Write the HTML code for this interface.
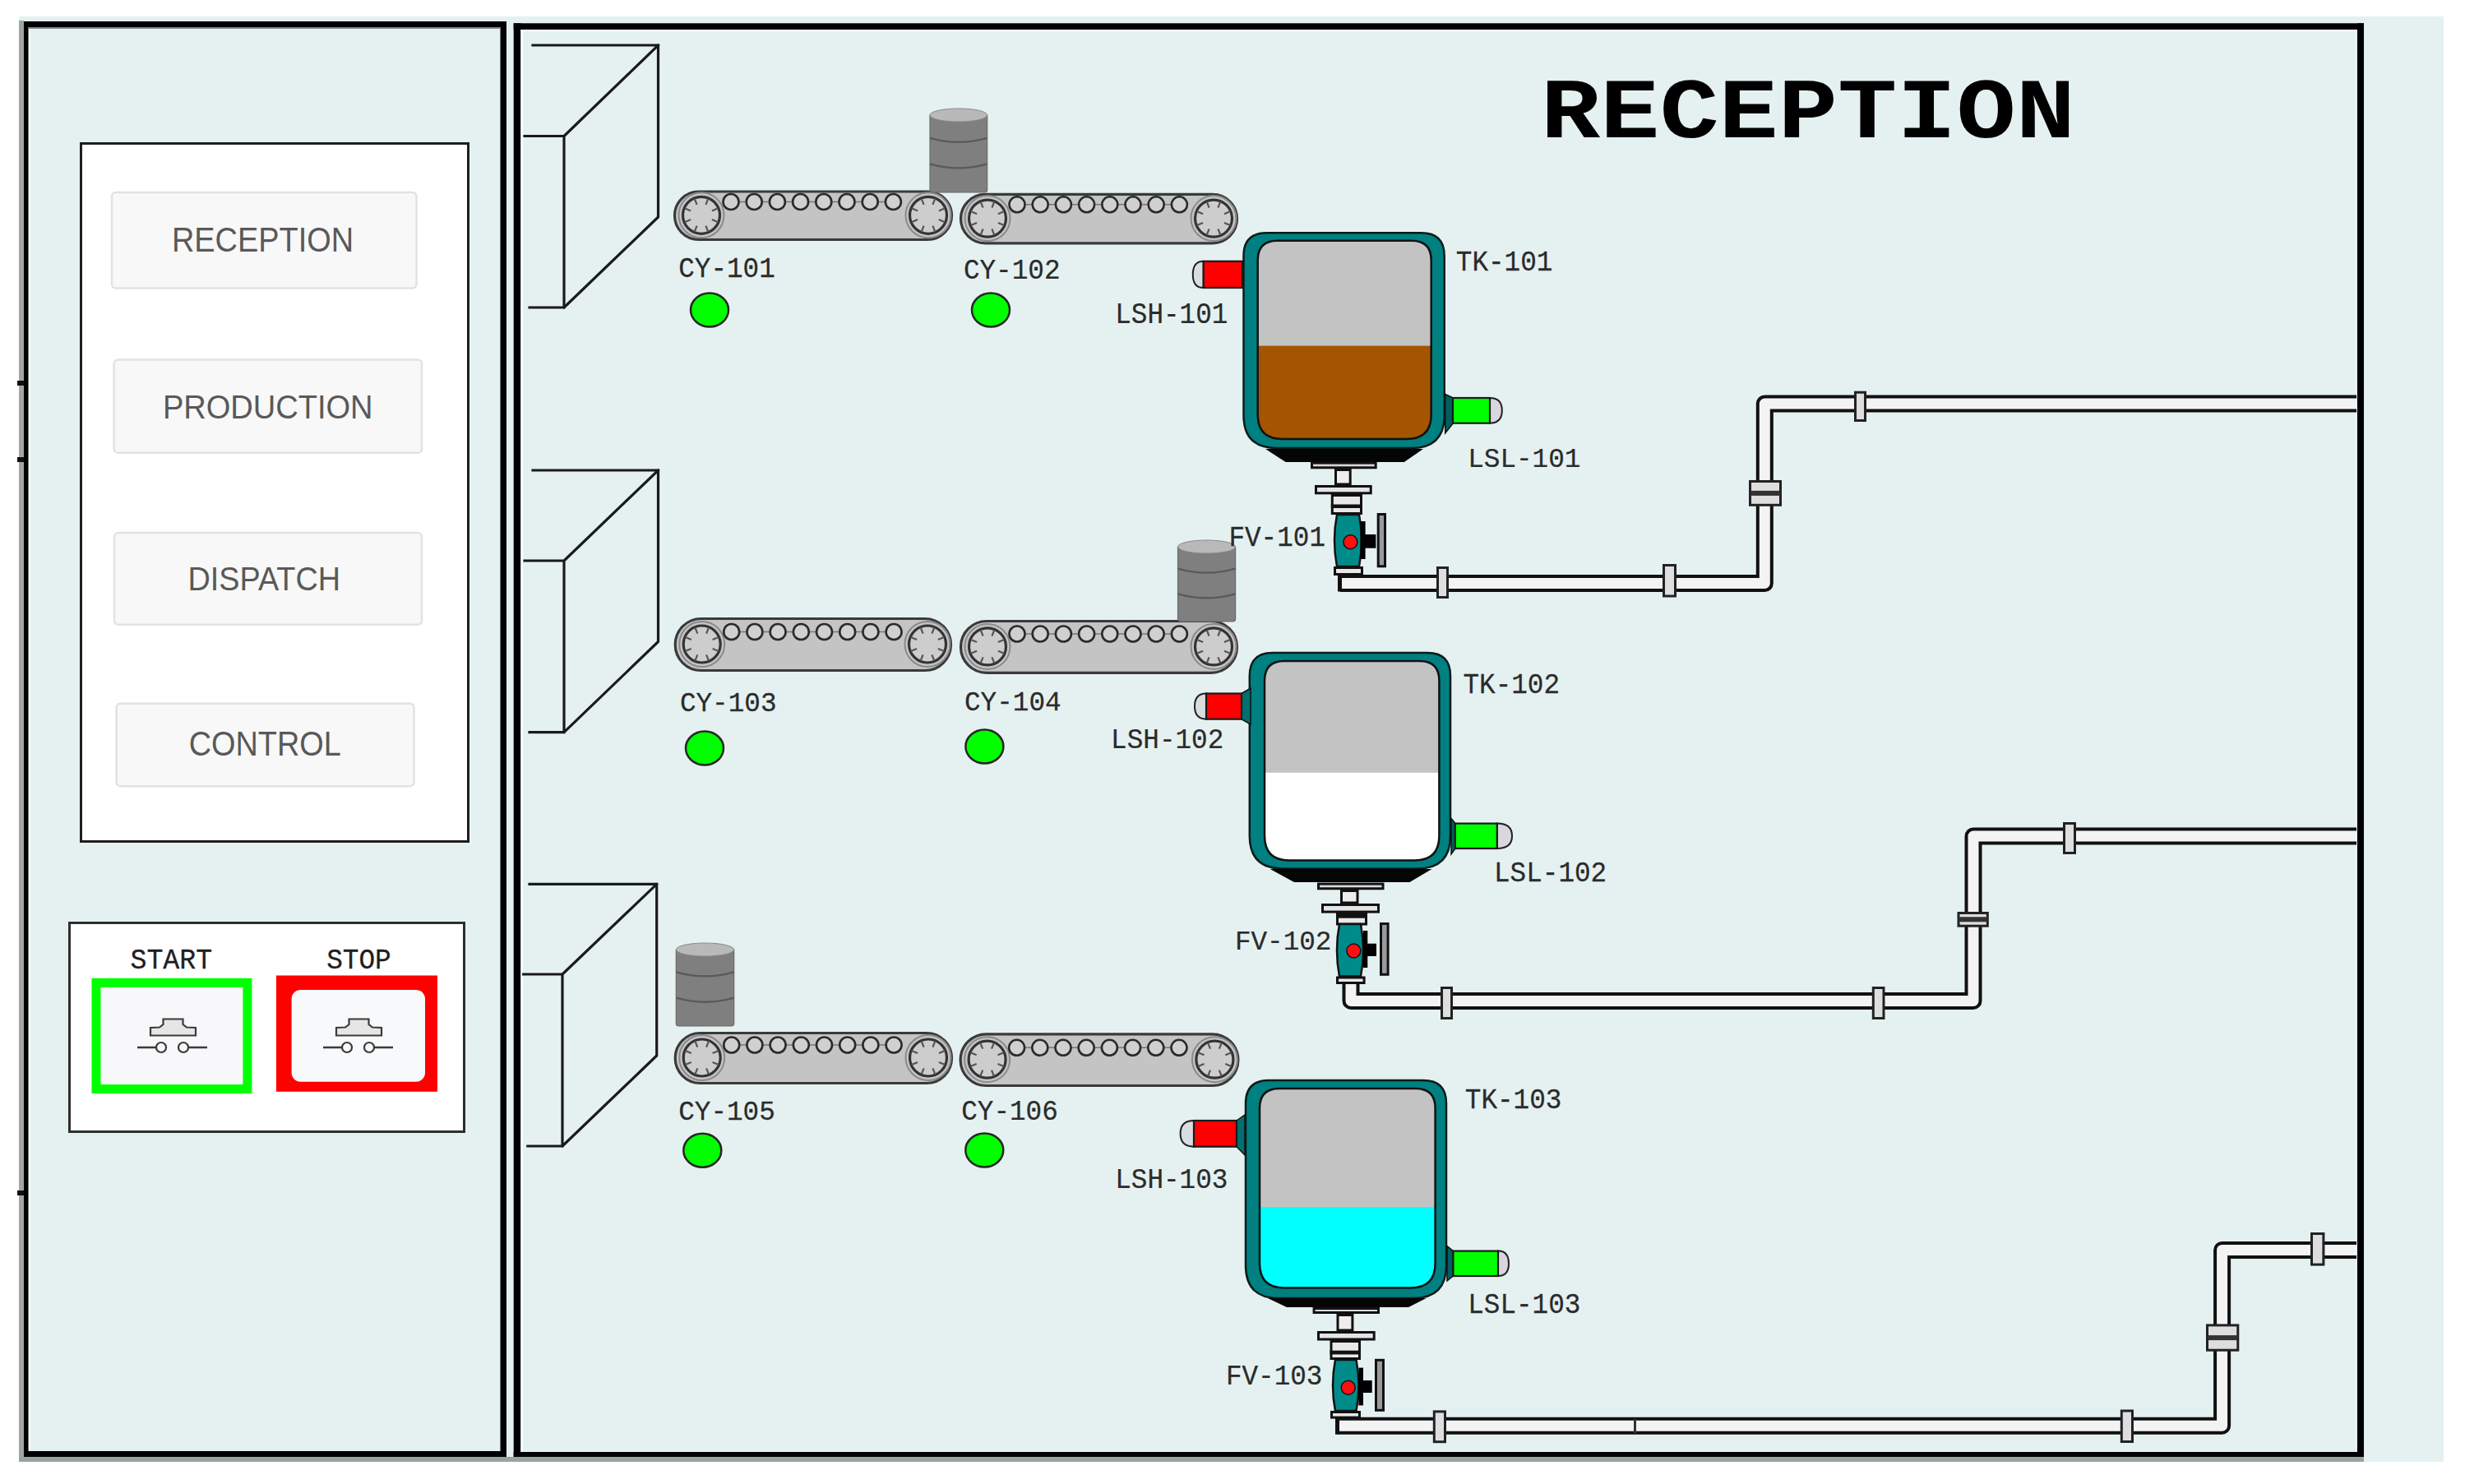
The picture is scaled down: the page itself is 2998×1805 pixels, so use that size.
<!DOCTYPE html>
<html><head><meta charset="utf-8"><title>Reception</title>
<style>html,body{margin:0;padding:0;background:#fff;}body{width:2998px;height:1805px;position:relative;overflow:hidden;}</style>
</head><body>
<svg width="2998" height="1805" viewBox="0 0 2998 1805" style="position:absolute;left:0;top:0">
<rect x="0" y="0" width="2998" height="1805" fill="#ffffff"/>
<rect x="23.0" y="20.0" width="2949.0" height="1758.0" fill="#e5f1f1" />
<rect x="23.0" y="25.0" width="6.0" height="1753.0" fill="#9ea6a6" />
<rect x="23.0" y="1772.0" width="593.0" height="6.0" fill="#9aa2a2" />
<rect x="29.0" y="26.0" width="587.0" height="7.0" fill="#000" />
<rect x="29.0" y="26.0" width="5.5" height="1746.0" fill="#000" />
<rect x="608.5" y="26.0" width="7.5" height="1746.0" fill="#000" />
<rect x="29.0" y="1765.0" width="587.0" height="7.0" fill="#000" />
<rect x="34.5" y="33.0" width="574.0" height="2.0" fill="#7d8585" />
<rect x="35.0" y="35.0" width="2.0" height="1730.0" fill="#f4ffff" />
<rect x="616.0" y="1772.0" width="2259.0" height="6.0" fill="#9aa2a2" />
<rect x="624.7" y="28.3" width="2250.3" height="7.7" fill="#000" />
<rect x="624.7" y="28.3" width="8.7" height="1743.7" fill="#000" />
<rect x="2867.0" y="28.3" width="8.0" height="1743.7" fill="#000" />
<rect x="624.7" y="1766.0" width="2250.3" height="6.0" fill="#000" />
<rect x="633.4" y="36.0" width="2233.6" height="2.0" fill="#f4ffff" />
<rect x="633.4" y="36.0" width="2.6" height="1730.0" fill="#f4ffff" />
<rect x="21.0" y="463.0" width="8.0" height="6.0" fill="#111" />
<rect x="21.0" y="556.0" width="8.0" height="6.0" fill="#111" />
<rect x="21.0" y="1448.0" width="8.0" height="6.0" fill="#111" />
<rect x="98.5" y="174.5" width="471" height="849" fill="#fff" stroke="#1e1e1e" stroke-width="3"/>
<rect x="136.0" y="234.0" width="370.5" height="116.6" rx="5" fill="#f8f8f8" stroke="#e2e2e2" stroke-width="2.5"/>
<rect x="138.6" y="437.5" width="374.4" height="113.2" rx="5" fill="#f8f8f8" stroke="#e2e2e2" stroke-width="2.5"/>
<rect x="139.0" y="648.0" width="374.0" height="111.7" rx="5" fill="#f8f8f8" stroke="#e2e2e2" stroke-width="2.5"/>
<rect x="141.6" y="855.7" width="361.9" height="100.5" rx="5" fill="#f8f8f8" stroke="#e2e2e2" stroke-width="2.5"/>
<text transform="translate(208.89,306.00) scale(0.8995,1)" font-family="Liberation Sans" font-weight="normal" font-size="42.15" fill="#595959" >RECEPTION</text>
<text transform="translate(197.88,509.00) scale(0.9183,1)" font-family="Liberation Sans" font-weight="normal" font-size="41.43" fill="#595959" >PRODUCTION</text>
<text transform="translate(228.50,718.00) scale(0.9096,1)" font-family="Liberation Sans" font-weight="normal" font-size="41.57" fill="#595959" >DISPATCH</text>
<text transform="translate(229.68,919.00) scale(0.8858,1)" font-family="Liberation Sans" font-weight="normal" font-size="42.73" fill="#595959" >CONTROL</text>
<rect x="84.5" y="1122.5" width="480" height="254" fill="#fff" stroke="#2e2e2e" stroke-width="3"/>
<text transform="translate(158.42,1177.80) scale(0.9529,1)" font-family="Liberation Mono" font-weight="normal" font-size="34.92" fill="#1f1f1f" stroke="#1f1f1f" stroke-width="0.3">START</text>
<text transform="translate(397.14,1177.80) scale(0.9380,1)" font-family="Liberation Mono" font-weight="normal" font-size="34.92" fill="#1f1f1f" stroke="#1f1f1f" stroke-width="0.3">STOP</text>
<rect x="117" y="1195.3" width="183.9" height="129.2" fill="#f8f8fa" stroke="#00ff00" stroke-width="11"/>
<rect x="336.0" y="1186.5" width="196.0" height="141.3" fill="#ff0000" />
<rect x="354.6" y="1204" width="162.4" height="111.8" rx="11" fill="#f8f9fb"/>
<g transform="translate(0,0)" fill="#e6e6e6" stroke="#3a3a3a" stroke-width="2.2"><path d="M183 1259.5 V1250 L194 1249.5 L198.5 1246 V1239.5 H222.5 V1246 L227 1249.5 L238 1250 V1259.5 Z"/><path d="M167 1274 H190 M229 1274 H252" fill="none" stroke-width="2.6"/><circle cx="196" cy="1274" r="6" fill="none"/><circle cx="223" cy="1274" r="6" fill="none"/></g>
<g transform="translate(226,0)" fill="#e6e6e6" stroke="#3a3a3a" stroke-width="2.2"><path d="M183 1259.5 V1250 L194 1249.5 L198.5 1246 V1239.5 H222.5 V1246 L227 1249.5 L238 1250 V1259.5 Z"/><path d="M167 1274 H190 M229 1274 H252" fill="none" stroke-width="2.6"/><circle cx="196" cy="1274" r="6" fill="none"/><circle cx="223" cy="1274" r="6" fill="none"/></g>
<text transform="translate(1873.95,166.60) scale(1.1623,1)" font-family="Liberation Mono" font-weight="bold" font-size="103.54" fill="#000" >RECEPTION</text>
<g stroke="#1a1a1a" stroke-width="3.2" fill="none" stroke-linecap="square"><path d="M648 55 H800.5 V264 L686 374 M800.5 55 L686 165.5 V374 M638 165.5 H686 M644 374 H686"/></g>
<g stroke="#1a1a1a" stroke-width="3.2" fill="none" stroke-linecap="square"><path d="M648 572 H800.5 V780.5 L686 890.6 M800.5 572 L686 682 V890.6 M638 682 H686 M644 890.6 H686"/></g>
<g stroke="#1a1a1a" stroke-width="3.2" fill="none" stroke-linecap="square"><path d="M644 1075.4 H798.7 V1284 L684 1394 M798.7 1075.4 L684 1185 V1394 M636.6 1185 H684 M641.8 1394 H684"/></g>
<rect x="820.5" y="233.0" width="337.0" height="58.5" rx="29.2" fill="#c4c4c4" stroke="#3a3a3a" stroke-width="3.2"/>
<circle cx="853.0" cy="261.8" r="27.5" fill="none" stroke="#8a8a8a" stroke-width="2"/>
<circle cx="853.0" cy="261.8" r="22.5" fill="#cdcdcd" stroke="#333" stroke-width="3.2"/>
<path d="M873.3 270.2 L865.9 267.1 M861.4 282.1 L858.4 274.7 M844.6 282.1 L847.6 274.7 M832.7 270.2 L840.1 267.1 M832.7 253.3 L840.1 256.4 M844.6 241.4 L847.6 248.8 M861.4 241.4 L858.4 248.8 M873.3 253.3 L865.9 256.4" stroke="#555" stroke-width="2.2"/>
<circle cx="1129.0" cy="261.8" r="27.5" fill="none" stroke="#8a8a8a" stroke-width="2"/>
<circle cx="1129.0" cy="261.8" r="22.5" fill="#cdcdcd" stroke="#333" stroke-width="3.2"/>
<path d="M1149.3 270.2 L1141.9 267.1 M1137.4 282.1 L1134.4 274.7 M1120.6 282.1 L1123.6 274.7 M1108.7 270.2 L1116.1 267.1 M1108.7 253.3 L1116.1 256.4 M1120.6 241.4 L1123.6 248.8 M1137.4 241.4 L1134.4 248.8 M1149.3 253.3 L1141.9 256.4" stroke="#555" stroke-width="2.2"/>
<line x1="889.0" y1="245.5" x2="1086.4" y2="245.5" stroke="#777" stroke-width="1.5"/>
<circle cx="889.0" cy="245.5" r="9.5" fill="#d0d0d0" stroke="#2a2a2a" stroke-width="2.6"/>
<circle cx="917.2" cy="245.5" r="9.5" fill="#d0d0d0" stroke="#2a2a2a" stroke-width="2.6"/>
<circle cx="945.4" cy="245.5" r="9.5" fill="#d0d0d0" stroke="#2a2a2a" stroke-width="2.6"/>
<circle cx="973.6" cy="245.5" r="9.5" fill="#d0d0d0" stroke="#2a2a2a" stroke-width="2.6"/>
<circle cx="1001.8" cy="245.5" r="9.5" fill="#d0d0d0" stroke="#2a2a2a" stroke-width="2.6"/>
<circle cx="1030.0" cy="245.5" r="9.5" fill="#d0d0d0" stroke="#2a2a2a" stroke-width="2.6"/>
<circle cx="1058.2" cy="245.5" r="9.5" fill="#d0d0d0" stroke="#2a2a2a" stroke-width="2.6"/>
<circle cx="1086.4" cy="245.5" r="9.5" fill="#d0d0d0" stroke="#2a2a2a" stroke-width="2.6"/>
<rect x="1168.5" y="236.3" width="336.0" height="59.5" rx="29.8" fill="#c4c4c4" stroke="#3a3a3a" stroke-width="3.2"/>
<circle cx="1201.0" cy="265.6" r="27.5" fill="none" stroke="#8a8a8a" stroke-width="2"/>
<circle cx="1201.0" cy="265.6" r="22.5" fill="#cdcdcd" stroke="#333" stroke-width="3.2"/>
<path d="M1221.3 274.0 L1213.9 270.9 M1209.4 285.9 L1206.4 278.5 M1192.6 285.9 L1195.6 278.5 M1180.7 274.0 L1188.1 270.9 M1180.7 257.1 L1188.1 260.2 M1192.6 245.2 L1195.6 252.6 M1209.4 245.2 L1206.4 252.6 M1221.3 257.1 L1213.9 260.2" stroke="#555" stroke-width="2.2"/>
<circle cx="1476.0" cy="265.6" r="27.5" fill="none" stroke="#8a8a8a" stroke-width="2"/>
<circle cx="1476.0" cy="265.6" r="22.5" fill="#cdcdcd" stroke="#333" stroke-width="3.2"/>
<path d="M1496.3 274.0 L1488.9 270.9 M1484.4 285.9 L1481.4 278.5 M1467.6 285.9 L1470.6 278.5 M1455.7 274.0 L1463.1 270.9 M1455.7 257.1 L1463.1 260.2 M1467.6 245.2 L1470.6 252.6 M1484.4 245.2 L1481.4 252.6 M1496.3 257.1 L1488.9 260.2" stroke="#555" stroke-width="2.2"/>
<line x1="1237.0" y1="248.8" x2="1434.4" y2="248.8" stroke="#777" stroke-width="1.5"/>
<circle cx="1237.0" cy="248.8" r="9.5" fill="#d0d0d0" stroke="#2a2a2a" stroke-width="2.6"/>
<circle cx="1265.2" cy="248.8" r="9.5" fill="#d0d0d0" stroke="#2a2a2a" stroke-width="2.6"/>
<circle cx="1293.4" cy="248.8" r="9.5" fill="#d0d0d0" stroke="#2a2a2a" stroke-width="2.6"/>
<circle cx="1321.6" cy="248.8" r="9.5" fill="#d0d0d0" stroke="#2a2a2a" stroke-width="2.6"/>
<circle cx="1349.8" cy="248.8" r="9.5" fill="#d0d0d0" stroke="#2a2a2a" stroke-width="2.6"/>
<circle cx="1378.0" cy="248.8" r="9.5" fill="#d0d0d0" stroke="#2a2a2a" stroke-width="2.6"/>
<circle cx="1406.2" cy="248.8" r="9.5" fill="#d0d0d0" stroke="#2a2a2a" stroke-width="2.6"/>
<circle cx="1434.4" cy="248.8" r="9.5" fill="#d0d0d0" stroke="#2a2a2a" stroke-width="2.6"/>
<rect x="821.2" y="752.5" width="335.3" height="63.0" rx="31.5" fill="#c4c4c4" stroke="#3a3a3a" stroke-width="3.2"/>
<circle cx="853.7" cy="783.5" r="27.5" fill="none" stroke="#8a8a8a" stroke-width="2"/>
<circle cx="853.7" cy="783.5" r="22.5" fill="#cdcdcd" stroke="#333" stroke-width="3.2"/>
<path d="M874.0 791.9 L866.6 788.9 M862.1 803.8 L859.1 796.4 M845.3 803.8 L848.3 796.4 M833.4 791.9 L840.8 788.9 M833.4 775.1 L840.8 778.1 M845.3 763.2 L848.3 770.6 M862.1 763.2 L859.1 770.6 M874.0 775.1 L866.6 778.1" stroke="#555" stroke-width="2.2"/>
<circle cx="1128.0" cy="783.5" r="27.5" fill="none" stroke="#8a8a8a" stroke-width="2"/>
<circle cx="1128.0" cy="783.5" r="22.5" fill="#cdcdcd" stroke="#333" stroke-width="3.2"/>
<path d="M1148.3 791.9 L1140.9 788.9 M1136.4 803.8 L1133.4 796.4 M1119.6 803.8 L1122.6 796.4 M1107.7 791.9 L1115.1 788.9 M1107.7 775.1 L1115.1 778.1 M1119.6 763.2 L1122.6 770.6 M1136.4 763.2 L1133.4 770.6 M1148.3 775.1 L1140.9 778.1" stroke="#555" stroke-width="2.2"/>
<line x1="889.7" y1="768.5" x2="1087.1" y2="768.5" stroke="#777" stroke-width="1.5"/>
<circle cx="889.7" cy="768.5" r="9.5" fill="#d0d0d0" stroke="#2a2a2a" stroke-width="2.6"/>
<circle cx="917.9" cy="768.5" r="9.5" fill="#d0d0d0" stroke="#2a2a2a" stroke-width="2.6"/>
<circle cx="946.1" cy="768.5" r="9.5" fill="#d0d0d0" stroke="#2a2a2a" stroke-width="2.6"/>
<circle cx="974.3" cy="768.5" r="9.5" fill="#d0d0d0" stroke="#2a2a2a" stroke-width="2.6"/>
<circle cx="1002.5" cy="768.5" r="9.5" fill="#d0d0d0" stroke="#2a2a2a" stroke-width="2.6"/>
<circle cx="1030.7" cy="768.5" r="9.5" fill="#d0d0d0" stroke="#2a2a2a" stroke-width="2.6"/>
<circle cx="1058.9" cy="768.5" r="9.5" fill="#d0d0d0" stroke="#2a2a2a" stroke-width="2.6"/>
<circle cx="1087.1" cy="768.5" r="9.5" fill="#d0d0d0" stroke="#2a2a2a" stroke-width="2.6"/>
<rect x="1168.5" y="755.5" width="336.0" height="62.8" rx="31.4" fill="#c4c4c4" stroke="#3a3a3a" stroke-width="3.2"/>
<circle cx="1201.0" cy="786.4" r="27.5" fill="none" stroke="#8a8a8a" stroke-width="2"/>
<circle cx="1201.0" cy="786.4" r="22.5" fill="#cdcdcd" stroke="#333" stroke-width="3.2"/>
<path d="M1221.3 794.8 L1213.9 791.8 M1209.4 806.7 L1206.4 799.3 M1192.6 806.7 L1195.6 799.3 M1180.7 794.8 L1188.1 791.8 M1180.7 778.0 L1188.1 781.0 M1192.6 766.1 L1195.6 773.5 M1209.4 766.1 L1206.4 773.5 M1221.3 778.0 L1213.9 781.0" stroke="#555" stroke-width="2.2"/>
<circle cx="1476.0" cy="786.4" r="27.5" fill="none" stroke="#8a8a8a" stroke-width="2"/>
<circle cx="1476.0" cy="786.4" r="22.5" fill="#cdcdcd" stroke="#333" stroke-width="3.2"/>
<path d="M1496.3 794.8 L1488.9 791.8 M1484.4 806.7 L1481.4 799.3 M1467.6 806.7 L1470.6 799.3 M1455.7 794.8 L1463.1 791.8 M1455.7 778.0 L1463.1 781.0 M1467.6 766.1 L1470.6 773.5 M1484.4 766.1 L1481.4 773.5 M1496.3 778.0 L1488.9 781.0" stroke="#555" stroke-width="2.2"/>
<line x1="1237.0" y1="771.0" x2="1434.4" y2="771.0" stroke="#777" stroke-width="1.5"/>
<circle cx="1237.0" cy="771.0" r="9.5" fill="#d0d0d0" stroke="#2a2a2a" stroke-width="2.6"/>
<circle cx="1265.2" cy="771.0" r="9.5" fill="#d0d0d0" stroke="#2a2a2a" stroke-width="2.6"/>
<circle cx="1293.4" cy="771.0" r="9.5" fill="#d0d0d0" stroke="#2a2a2a" stroke-width="2.6"/>
<circle cx="1321.6" cy="771.0" r="9.5" fill="#d0d0d0" stroke="#2a2a2a" stroke-width="2.6"/>
<circle cx="1349.8" cy="771.0" r="9.5" fill="#d0d0d0" stroke="#2a2a2a" stroke-width="2.6"/>
<circle cx="1378.0" cy="771.0" r="9.5" fill="#d0d0d0" stroke="#2a2a2a" stroke-width="2.6"/>
<circle cx="1406.2" cy="771.0" r="9.5" fill="#d0d0d0" stroke="#2a2a2a" stroke-width="2.6"/>
<circle cx="1434.4" cy="771.0" r="9.5" fill="#d0d0d0" stroke="#2a2a2a" stroke-width="2.6"/>
<rect x="821.2" y="1256.5" width="336.3" height="61.0" rx="30.5" fill="#c4c4c4" stroke="#3a3a3a" stroke-width="3.2"/>
<circle cx="853.7" cy="1286.5" r="27.5" fill="none" stroke="#8a8a8a" stroke-width="2"/>
<circle cx="853.7" cy="1286.5" r="22.5" fill="#cdcdcd" stroke="#333" stroke-width="3.2"/>
<path d="M874.0 1294.9 L866.6 1291.9 M862.1 1306.8 L859.1 1299.4 M845.3 1306.8 L848.3 1299.4 M833.4 1294.9 L840.8 1291.9 M833.4 1278.1 L840.8 1281.1 M845.3 1266.2 L848.3 1273.6 M862.1 1266.2 L859.1 1273.6 M874.0 1278.1 L866.6 1281.1" stroke="#555" stroke-width="2.2"/>
<circle cx="1129.0" cy="1286.5" r="27.5" fill="none" stroke="#8a8a8a" stroke-width="2"/>
<circle cx="1129.0" cy="1286.5" r="22.5" fill="#cdcdcd" stroke="#333" stroke-width="3.2"/>
<path d="M1149.3 1294.9 L1141.9 1291.9 M1137.4 1306.8 L1134.4 1299.4 M1120.6 1306.8 L1123.6 1299.4 M1108.7 1294.9 L1116.1 1291.9 M1108.7 1278.1 L1116.1 1281.1 M1120.6 1266.2 L1123.6 1273.6 M1137.4 1266.2 L1134.4 1273.6 M1149.3 1278.1 L1141.9 1281.1" stroke="#555" stroke-width="2.2"/>
<line x1="889.7" y1="1271.0" x2="1087.1" y2="1271.0" stroke="#777" stroke-width="1.5"/>
<circle cx="889.7" cy="1271.0" r="9.5" fill="#d0d0d0" stroke="#2a2a2a" stroke-width="2.6"/>
<circle cx="917.9" cy="1271.0" r="9.5" fill="#d0d0d0" stroke="#2a2a2a" stroke-width="2.6"/>
<circle cx="946.1" cy="1271.0" r="9.5" fill="#d0d0d0" stroke="#2a2a2a" stroke-width="2.6"/>
<circle cx="974.3" cy="1271.0" r="9.5" fill="#d0d0d0" stroke="#2a2a2a" stroke-width="2.6"/>
<circle cx="1002.5" cy="1271.0" r="9.5" fill="#d0d0d0" stroke="#2a2a2a" stroke-width="2.6"/>
<circle cx="1030.7" cy="1271.0" r="9.5" fill="#d0d0d0" stroke="#2a2a2a" stroke-width="2.6"/>
<circle cx="1058.9" cy="1271.0" r="9.5" fill="#d0d0d0" stroke="#2a2a2a" stroke-width="2.6"/>
<circle cx="1087.1" cy="1271.0" r="9.5" fill="#d0d0d0" stroke="#2a2a2a" stroke-width="2.6"/>
<rect x="1168.1" y="1257.8" width="337.8" height="62.7" rx="31.4" fill="#c4c4c4" stroke="#3a3a3a" stroke-width="3.2"/>
<circle cx="1200.6" cy="1288.7" r="27.5" fill="none" stroke="#8a8a8a" stroke-width="2"/>
<circle cx="1200.6" cy="1288.7" r="22.5" fill="#cdcdcd" stroke="#333" stroke-width="3.2"/>
<path d="M1220.9 1297.1 L1213.5 1294.0 M1209.0 1309.0 L1206.0 1301.6 M1192.2 1309.0 L1195.2 1301.6 M1180.3 1297.1 L1187.7 1294.0 M1180.3 1280.2 L1187.7 1283.3 M1192.2 1268.3 L1195.2 1275.7 M1209.0 1268.3 L1206.0 1275.7 M1220.9 1280.2 L1213.5 1283.3" stroke="#555" stroke-width="2.2"/>
<circle cx="1477.4" cy="1288.7" r="27.5" fill="none" stroke="#8a8a8a" stroke-width="2"/>
<circle cx="1477.4" cy="1288.7" r="22.5" fill="#cdcdcd" stroke="#333" stroke-width="3.2"/>
<path d="M1497.7 1297.1 L1490.3 1294.0 M1485.8 1309.0 L1482.8 1301.6 M1469.0 1309.0 L1472.0 1301.6 M1457.1 1297.1 L1464.5 1294.0 M1457.1 1280.2 L1464.5 1283.3 M1469.0 1268.3 L1472.0 1275.7 M1485.8 1268.3 L1482.8 1275.7 M1497.7 1280.2 L1490.3 1283.3" stroke="#555" stroke-width="2.2"/>
<line x1="1236.6" y1="1274.3" x2="1434.0" y2="1274.3" stroke="#777" stroke-width="1.5"/>
<circle cx="1236.6" cy="1274.3" r="9.5" fill="#d0d0d0" stroke="#2a2a2a" stroke-width="2.6"/>
<circle cx="1264.8" cy="1274.3" r="9.5" fill="#d0d0d0" stroke="#2a2a2a" stroke-width="2.6"/>
<circle cx="1293.0" cy="1274.3" r="9.5" fill="#d0d0d0" stroke="#2a2a2a" stroke-width="2.6"/>
<circle cx="1321.2" cy="1274.3" r="9.5" fill="#d0d0d0" stroke="#2a2a2a" stroke-width="2.6"/>
<circle cx="1349.4" cy="1274.3" r="9.5" fill="#d0d0d0" stroke="#2a2a2a" stroke-width="2.6"/>
<circle cx="1377.6" cy="1274.3" r="9.5" fill="#d0d0d0" stroke="#2a2a2a" stroke-width="2.6"/>
<circle cx="1405.8" cy="1274.3" r="9.5" fill="#d0d0d0" stroke="#2a2a2a" stroke-width="2.6"/>
<circle cx="1434.0" cy="1274.3" r="9.5" fill="#d0d0d0" stroke="#2a2a2a" stroke-width="2.6"/>
<g><path d="M1131 140 V231 Q1131 234 1135 234 H1196.7 Q1200.7 234 1200.7 231 V140 Z" fill="#7f7f7f" stroke="#6a6a6a" stroke-width="1.2"/><ellipse cx="1165.8" cy="140.0" rx="34.9" ry="8" fill="#b9b9b9" stroke="#8a8a8a" stroke-width="1"/>
<path d="M1131 167.8 Q1165.8 177.8 1200.7 167.8" fill="none" stroke="#5a5a5a" stroke-width="2.4"/>
<path d="M1131 199.4 Q1165.8 209.4 1200.7 199.4" fill="none" stroke="#5a5a5a" stroke-width="2.4"/>
</g>
<g><path d="M1432.5 665 V753 Q1432.5 756 1436.5 756 H1498.6 Q1502.6 756 1502.6 753 V665 Z" fill="#7f7f7f" stroke="#6a6a6a" stroke-width="1.2"/><ellipse cx="1467.5" cy="665.0" rx="35.0" ry="8" fill="#b9b9b9" stroke="#8a8a8a" stroke-width="1"/>
<path d="M1432.5 691.6 Q1467.5 701.6 1502.6 691.6" fill="none" stroke="#5a5a5a" stroke-width="2.4"/>
<path d="M1432.5 722.3 Q1467.5 732.3 1502.6 722.3" fill="none" stroke="#5a5a5a" stroke-width="2.4"/>
</g>
<g><path d="M822.3 1155 V1245 Q822.3 1248 826.3 1248 H888.7 Q892.7 1248 892.7 1245 V1155 Z" fill="#7f7f7f" stroke="#6a6a6a" stroke-width="1.2"/><ellipse cx="857.5" cy="1155.0" rx="35.2" ry="8" fill="#b9b9b9" stroke="#8a8a8a" stroke-width="1"/>
<path d="M822.3 1182.4 Q857.5 1192.4 892.7 1182.4" fill="none" stroke="#5a5a5a" stroke-width="2.4"/>
<path d="M822.3 1213.7 Q857.5 1223.7 892.7 1213.7" fill="none" stroke="#5a5a5a" stroke-width="2.4"/>
</g>
<ellipse cx="863" cy="377" rx="23" ry="20.5" fill="#00ff00" stroke="#262626" stroke-width="2.5"/>
<ellipse cx="1205" cy="377" rx="23" ry="20.5" fill="#00ff00" stroke="#262626" stroke-width="2.5"/>
<ellipse cx="857" cy="910" rx="23" ry="20.5" fill="#00ff00" stroke="#262626" stroke-width="2.5"/>
<ellipse cx="1197.4" cy="908" rx="23" ry="20.5" fill="#00ff00" stroke="#262626" stroke-width="2.5"/>
<ellipse cx="854.3" cy="1399.3" rx="23" ry="20.5" fill="#00ff00" stroke="#262626" stroke-width="2.5"/>
<ellipse cx="1197.3" cy="1399" rx="23" ry="20.5" fill="#00ff00" stroke="#262626" stroke-width="2.5"/>
<path d="M1540.5 283.3 H1728.7 Q1756.7 283.3 1756.7 311.3 V505.0 Q1756.7 545.0 1716.7 545.0 H1552.5 Q1512.5 545.0 1512.5 505.0 V311.3 Q1512.5 283.3 1540.5 283.3 Z" fill="#008080" stroke="#0c1c1c" stroke-width="2.5"/>
<clipPath id="clip1511"><path d="M1553.7 292.7 H1716.7 Q1740.7 292.7 1740.7 316.7 V504.0 Q1740.7 534.0 1710.7 534.0 H1559.7 Q1529.7 534.0 1529.7 504.0 V316.7 Q1529.7 292.7 1553.7 292.7 Z"/></clipPath>
<g clip-path="url(#clip1511)"><rect x="1529.7" y="292.7" width="211.0" height="241.3" fill="#c3c3c3"/><rect x="1529.7" y="420.6" width="211.0" height="113.4" fill="#a55400"/></g>
<path d="M1553.7 292.7 H1716.7 Q1740.7 292.7 1740.7 316.7 V504.0 Q1740.7 534.0 1710.7 534.0 H1559.7 Q1529.7 534.0 1529.7 504.0 V316.7 Q1529.7 292.7 1553.7 292.7 Z" fill="none" stroke="#111" stroke-width="2.5"/>
<path d="M1547.8 794.0 H1736.0 Q1764.0 794.0 1764.0 822.0 V1016.4 Q1764.0 1056.4 1724.0 1056.4 H1559.8 Q1519.8 1056.4 1519.8 1016.4 V822.0 Q1519.8 794.0 1547.8 794.0 Z" fill="#008080" stroke="#0c1c1c" stroke-width="2.5"/>
<clipPath id="clip1518"><path d="M1562.0 804.0 H1726.4 Q1750.4 804.0 1750.4 828.0 V1016.5 Q1750.4 1046.5 1720.4 1046.5 H1568.0 Q1538.0 1046.5 1538.0 1016.5 V828.0 Q1538.0 804.0 1562.0 804.0 Z"/></clipPath>
<g clip-path="url(#clip1518)"><rect x="1538.0" y="804.0" width="212.4" height="242.5" fill="#c3c3c3"/><rect x="1538.0" y="939.8" width="212.4" height="106.7" fill="#ffffff"/></g>
<path d="M1562.0 804.0 H1726.4 Q1750.4 804.0 1750.4 828.0 V1016.5 Q1750.4 1046.5 1720.4 1046.5 H1568.0 Q1538.0 1046.5 1538.0 1016.5 V828.0 Q1538.0 804.0 1562.0 804.0 Z" fill="none" stroke="#111" stroke-width="2.5"/>
<path d="M1543.0 1314.0 H1731.0 Q1759.0 1314.0 1759.0 1342.0 V1539.0 Q1759.0 1579.0 1719.0 1579.0 H1555.0 Q1515.0 1579.0 1515.0 1539.0 V1342.0 Q1515.0 1314.0 1543.0 1314.0 Z" fill="#008080" stroke="#0c1c1c" stroke-width="2.5"/>
<clipPath id="clip1514"><path d="M1556.0 1324.0 H1721.6 Q1745.6 1324.0 1745.6 1348.0 V1536.5 Q1745.6 1566.5 1715.6 1566.5 H1562.0 Q1532.0 1566.5 1532.0 1536.5 V1348.0 Q1532.0 1324.0 1556.0 1324.0 Z"/></clipPath>
<g clip-path="url(#clip1514)"><rect x="1532.0" y="1324.0" width="213.6" height="242.5" fill="#c3c3c3"/><rect x="1532.0" y="1468.3" width="213.6" height="98.2" fill="#00ffff"/></g>
<path d="M1556.0 1324.0 H1721.6 Q1745.6 1324.0 1745.6 1348.0 V1536.5 Q1745.6 1566.5 1715.6 1566.5 H1562.0 Q1532.0 1566.5 1532.0 1536.5 V1348.0 Q1532.0 1324.0 1556.0 1324.0 Z" fill="none" stroke="#111" stroke-width="2.5"/>
<path d="M1539 546 H1731 L1707.8 562 H1563.6 Z" fill="#050505"/>
<path d="M1544.7 1057 H1741.5 L1714.5 1073 H1574 Z" fill="#050505"/>
<path d="M1542 1579 H1734.7 L1713 1590 H1565 Z" fill="#050505"/>
<rect x="1595.5" y="563.1" width="77.7" height="5.7" fill="#d8d8d8" stroke="#111" stroke-width="3"/>
<rect x="1624.5" y="571.5" width="17.7" height="17.5" fill="#eeeeee" stroke="#111" stroke-width="3"/>
<rect x="1600.5" y="591.5" width="66.7" height="8.3" fill="#e4e4e4" stroke="#111" stroke-width="3"/>
<rect x="1620.3" y="602.5" width="35.2" height="22.0" fill="#e8e8e8" stroke="#111" stroke-width="3"/>
<rect x="1618.8" y="613.5" width="38.2" height="4.5" fill="#111" />
<path d="M1626.0 626.0 H1653.0 Q1659.0 657.5 1653.0 689.0 H1626.0 Q1620.0 657.5 1626.0 626.0 Z" fill="#008b8b" stroke="#111" stroke-width="2.5"/>
<rect x="1654.5" y="634.0" width="6.1" height="46.0" fill="#000" />
<rect x="1660.0" y="650.0" width="13.4" height="16.7" fill="#000" />
<circle cx="1642.4" cy="659.3" r="8.5" fill="#ff1010" stroke="#111" stroke-width="1.5"/>
<rect x="1676.2" y="625.5" width="8.3" height="63.3" fill="#9a9a9a" stroke="#111" stroke-width="3"/>
<rect x="1623.5" y="690.5" width="33.0" height="8.0" fill="#e8e8e8" stroke="#111" stroke-width="3"/>
<rect x="1603.5" y="1075.1" width="78.5" height="5.7" fill="#d8d8d8" stroke="#111" stroke-width="3"/>
<rect x="1631.5" y="1083.5" width="19.5" height="14.5" fill="#eeeeee" stroke="#111" stroke-width="3"/>
<rect x="1608.5" y="1100.5" width="68.0" height="8.6" fill="#e4e4e4" stroke="#111" stroke-width="3"/>
<rect x="1626.5" y="1111.5" width="35.0" height="12.5" fill="#e8e8e8" stroke="#111" stroke-width="3"/>
<rect x="1625.0" y="1110.0" width="38.0" height="6.7" fill="#111" />
<path d="M1629.0 1124.0 H1655.0 Q1661.0 1155.8 1655.0 1187.5 H1629.0 Q1623.0 1155.8 1629.0 1124.0 Z" fill="#008b8b" stroke="#111" stroke-width="2.5"/>
<rect x="1658.0" y="1132.0" width="5.3" height="45.0" fill="#000" />
<rect x="1663.0" y="1147.7" width="11.0" height="15.3" fill="#000" />
<circle cx="1646.4" cy="1156.5" r="8.5" fill="#ff1010" stroke="#111" stroke-width="1.5"/>
<rect x="1679.5" y="1123.5" width="8.6" height="61.8" fill="#9a9a9a" stroke="#111" stroke-width="3"/>
<rect x="1626.5" y="1189.0" width="32.6" height="6.5" fill="#e8e8e8" stroke="#111" stroke-width="3"/>
<rect x="1598.1" y="1591.5" width="78.4" height="5.0" fill="#d8d8d8" stroke="#111" stroke-width="3"/>
<rect x="1627.0" y="1599.5" width="17.9" height="18.5" fill="#eeeeee" stroke="#111" stroke-width="3"/>
<rect x="1603.5" y="1620.5" width="67.7" height="8.5" fill="#e4e4e4" stroke="#111" stroke-width="3"/>
<rect x="1619.0" y="1631.5" width="34.5" height="21.0" fill="#e8e8e8" stroke="#111" stroke-width="3"/>
<rect x="1617.5" y="1642.7" width="37.5" height="4.7" fill="#111" />
<path d="M1624.0 1654.0 H1649.5 Q1655.5 1685.0 1649.5 1716.0 H1624.0 Q1618.0 1685.0 1624.0 1654.0 Z" fill="#008b8b" stroke="#111" stroke-width="2.5"/>
<rect x="1652.5" y="1663.6" width="5.5" height="45.8" fill="#000" />
<rect x="1658.0" y="1679.0" width="10.7" height="15.0" fill="#000" />
<circle cx="1639.7" cy="1687.8" r="8.5" fill="#ff1010" stroke="#111" stroke-width="1.5"/>
<rect x="1673.5" y="1654.3" width="9.0" height="61.0" fill="#9a9a9a" stroke="#111" stroke-width="3"/>
<rect x="1619.5" y="1717.5" width="34.0" height="6.6" fill="#e8e8e8" stroke="#111" stroke-width="3"/>
<path d="M1463.7 317.8 Q1450.8 317.8 1450.8 333.9 Q1450.8 350 1463.7 350 Z" fill="#d9dde0" stroke="#222" stroke-width="2"/>
<rect x="1463.7" y="317.8" width="47.3" height="32.2" fill="#ff0000" stroke="#1a1a1a" stroke-width="2.2"/>
<path d="M1510 843.5 L1521 837 V881 L1510 874.7 Z" fill="#006f6f" stroke="#111" stroke-width="1.5"/>
<path d="M1467 843.5 Q1453 843.5 1453 859.1 Q1453 874.7 1467 874.7 Z" fill="#d9dde0" stroke="#222" stroke-width="2"/>
<rect x="1467.0" y="843.5" width="43.0" height="31.2" fill="#ff0000" stroke="#1a1a1a" stroke-width="2.2"/>
<path d="M1504 1363 L1514 1356 V1405 L1504 1394.7 Z" fill="#006f6f" stroke="#111" stroke-width="1.5"/>
<path d="M1452 1363 Q1435.6 1363 1435.6 1378.85 Q1435.6 1394.7 1452 1394.7 Z" fill="#d9dde0" stroke="#222" stroke-width="2"/>
<rect x="1452.0" y="1363.0" width="52.0" height="31.7" fill="#ff0000" stroke="#1a1a1a" stroke-width="2.2"/>
<path d="M1757.7 479.5 L1767.4 484 V514.7 L1757.7 526.8 Z" fill="#005f5f" stroke="#111" stroke-width="1.5"/>
<path d="M1812 484 Q1826.8 484 1826.8 499.35 Q1826.8 514.7 1812 514.7 Z" fill="#d9d6e0" stroke="#222" stroke-width="2"/>
<rect x="1767.0" y="484.0" width="45.0" height="30.7" fill="#00ff00" stroke="#1a1a1a" stroke-width="2.2"/>
<path d="M1765 995.6 L1770 1001.6 V1032 L1765 1039 Z" fill="#005f5f" stroke="#111" stroke-width="1.5"/>
<path d="M1820.8 1001.6 Q1839 1001.6 1839 1016.8 Q1839 1032 1820.8 1032 Z" fill="#d9d6e0" stroke="#222" stroke-width="2"/>
<rect x="1769.8" y="1001.6" width="51.0" height="30.4" fill="#00ff00" stroke="#1a1a1a" stroke-width="2.2"/>
<path d="M1760 1515.6 L1767.4 1521.6 V1552 L1760 1558 Z" fill="#005f5f" stroke="#111" stroke-width="1.5"/>
<path d="M1822 1521.6 Q1835 1521.6 1835 1536.8 Q1835 1552 1822 1552 Z" fill="#d9d6e0" stroke="#222" stroke-width="2"/>
<rect x="1767.4" y="1521.6" width="54.6" height="30.4" fill="#00ff00" stroke="#1a1a1a" stroke-width="2.2"/>
<path d="M1630 709.5 H2146.3 V491 H2866" fill="none" stroke="#111" stroke-width="21" stroke-linejoin="round"/>
<path d="M1630 709.5 H2146.3 V491 H2866" fill="none" stroke="#f3f3f3" stroke-width="13" stroke-linejoin="round"/>
<rect x="1627.0" y="699.5" width="5.0" height="20.0" fill="#111" />
<rect x="1748.5" y="690.5" width="12.0" height="36.0" fill="#dedede" stroke="#222" stroke-width="3"/>
<rect x="2023.5" y="687.5" width="14.0" height="37.5" fill="#dedede" stroke="#222" stroke-width="3"/>
<rect x="2128.5" y="585.5" width="37.0" height="28.8" fill="#dedede" stroke="#222" stroke-width="3"/>
<rect x="2129.0" y="596.9" width="36.0" height="6.0" fill="#333" />
<rect x="2256.5" y="477.2" width="12.0" height="34.3" fill="#dedede" stroke="#222" stroke-width="3"/>
<path d="M1643 1197 V1217.4 H2400 V1017 H2866" fill="none" stroke="#111" stroke-width="21" stroke-linejoin="round"/>
<path d="M1643 1197 V1217.4 H2400 V1017 H2866" fill="none" stroke="#f3f3f3" stroke-width="13" stroke-linejoin="round"/>
<rect x="1753.5" y="1201.5" width="12.0" height="37.0" fill="#dedede" stroke="#222" stroke-width="3"/>
<rect x="2278.3" y="1201.5" width="12.7" height="37.0" fill="#dedede" stroke="#222" stroke-width="3"/>
<rect x="2382.0" y="1110.5" width="35.3" height="15.7" fill="#dedede" stroke="#222" stroke-width="3"/>
<rect x="2382.5" y="1115.3" width="34.3" height="6.0" fill="#333" />
<rect x="2510.5" y="1001.5" width="13.0" height="36.0" fill="#dedede" stroke="#222" stroke-width="3"/>
<path d="M1627 1734.2 H2702.6 V1520.4 H2866" fill="none" stroke="#111" stroke-width="21" stroke-linejoin="round"/>
<path d="M1627 1734.2 H2702.6 V1520.4 H2866" fill="none" stroke="#f3f3f3" stroke-width="13" stroke-linejoin="round"/>
<rect x="1624.0" y="1723.7" width="5.0" height="21.0" fill="#111" />
<rect x="1987.0" y="1726.0" width="3.0" height="17.0" fill="#333" />
<rect x="1744.3" y="1716.9" width="13.2" height="36.8" fill="#dedede" stroke="#222" stroke-width="3"/>
<rect x="2580.3" y="1716.0" width="13.2" height="37.5" fill="#dedede" stroke="#222" stroke-width="3"/>
<rect x="2684.5" y="1611.9" width="37.3" height="30.3" fill="#dedede" stroke="#222" stroke-width="3"/>
<rect x="2685.0" y="1624.1" width="36.3" height="6.0" fill="#333" />
<rect x="2811.5" y="1500.5" width="14.4" height="37.6" fill="#dedede" stroke="#222" stroke-width="3"/>
<text transform="translate(825.20,337.00) scale(0.9355,1)" font-family="Liberation Mono" font-size="34.92" fill="#2b2b2b" stroke="#2b2b2b" stroke-width="0.25">CY-101</text>
<text transform="translate(1171.90,339.40) scale(0.9479,1)" font-family="Liberation Mono" font-size="34.46" fill="#2b2b2b" stroke="#2b2b2b" stroke-width="0.25">CY-102</text>
<text transform="translate(826.90,864.50) scale(1.0008,1)" font-family="Liberation Mono" font-size="32.64" fill="#2b2b2b" stroke="#2b2b2b" stroke-width="0.25">CY-103</text>
<text transform="translate(1173.00,864.00) scale(0.9962,1)" font-family="Liberation Mono" font-size="32.79" fill="#2b2b2b" stroke="#2b2b2b" stroke-width="0.25">CY-104</text>
<text transform="translate(825.20,1362.00) scale(0.9962,1)" font-family="Liberation Mono" font-size="32.79" fill="#2b2b2b" stroke="#2b2b2b" stroke-width="0.25">CY-105</text>
<text transform="translate(1169.20,1362.30) scale(0.9079,1)" font-family="Liberation Mono" font-size="35.98" fill="#2b2b2b" stroke="#2b2b2b" stroke-width="0.25">CY-106</text>
<text transform="translate(1356.22,393.30) scale(0.9041,1)" font-family="Liberation Mono" font-size="36.13" fill="#2b2b2b" stroke="#2b2b2b" stroke-width="0.25">LSH-101</text>
<text transform="translate(1351.12,910.30) scale(0.9079,1)" font-family="Liberation Mono" font-size="35.98" fill="#2b2b2b" stroke="#2b2b2b" stroke-width="0.25">LSH-102</text>
<text transform="translate(1356.22,1444.60) scale(0.9117,1)" font-family="Liberation Mono" font-size="35.83" fill="#2b2b2b" stroke="#2b2b2b" stroke-width="0.25">LSH-103</text>
<text transform="translate(1770.79,329.00) scale(0.9355,1)" font-family="Liberation Mono" font-size="34.92" fill="#2b2b2b" stroke="#2b2b2b" stroke-width="0.25">TK-101</text>
<text transform="translate(1779.49,842.80) scale(0.9315,1)" font-family="Liberation Mono" font-size="35.07" fill="#2b2b2b" stroke="#2b2b2b" stroke-width="0.25">TK-102</text>
<text transform="translate(1781.79,1348.20) scale(0.9275,1)" font-family="Liberation Mono" font-size="35.22" fill="#2b2b2b" stroke="#2b2b2b" stroke-width="0.25">TK-103</text>
<text transform="translate(1785.22,568.00) scale(0.9781,1)" font-family="Liberation Mono" font-size="33.40" fill="#2b2b2b" stroke="#2b2b2b" stroke-width="0.25">LSL-101</text>
<text transform="translate(1817.02,1072.00) scale(0.9355,1)" font-family="Liberation Mono" font-size="34.92" fill="#2b2b2b" stroke="#2b2b2b" stroke-width="0.25">LSL-102</text>
<text transform="translate(1785.22,1596.80) scale(0.9355,1)" font-family="Liberation Mono" font-size="34.92" fill="#2b2b2b" stroke="#2b2b2b" stroke-width="0.25">LSL-103</text>
<text transform="translate(1494.41,664.00) scale(0.9355,1)" font-family="Liberation Mono" font-size="34.92" fill="#2b2b2b" stroke="#2b2b2b" stroke-width="0.25">FV-101</text>
<text transform="translate(1501.91,1155.00) scale(0.9781,1)" font-family="Liberation Mono" font-size="33.40" fill="#2b2b2b" stroke="#2b2b2b" stroke-width="0.25">FV-102</text>
<text transform="translate(1490.91,1683.80) scale(0.9437,1)" font-family="Liberation Mono" font-size="34.61" fill="#2b2b2b" stroke="#2b2b2b" stroke-width="0.25">FV-103</text>
</svg>
</body></html>
